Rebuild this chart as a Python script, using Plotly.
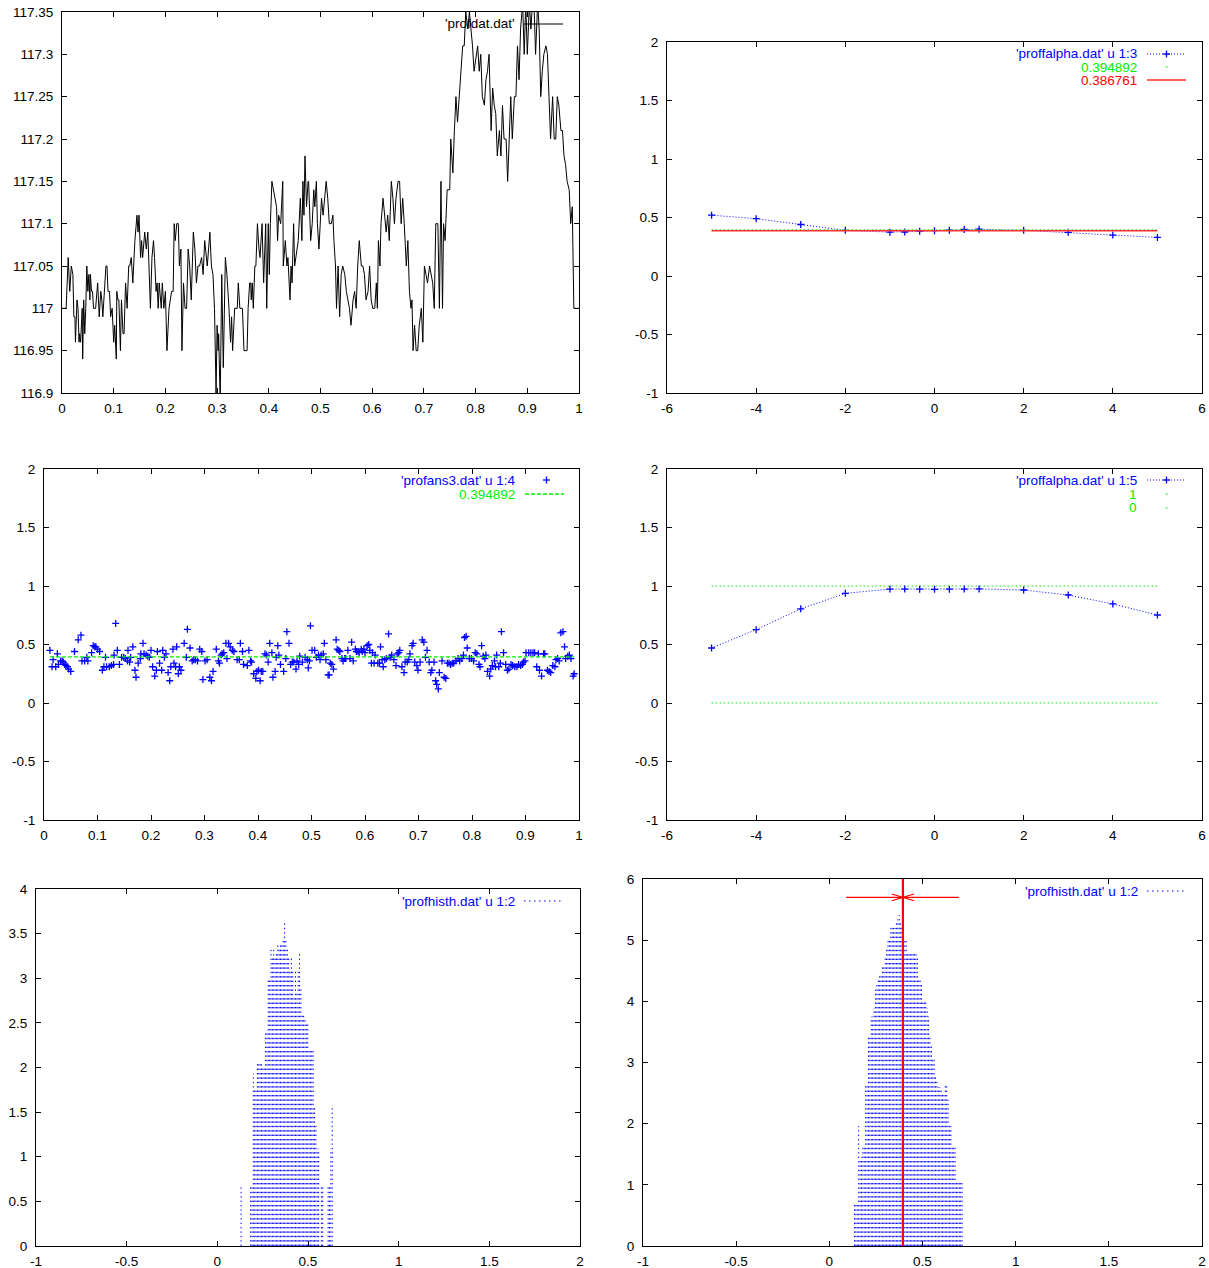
import numpy as np
import plotly.graph_objects as go

W, H = 1209, 1268
FONT = "Liberation Sans, Arial, Helvetica, sans-serif"
FS = 13.5
BLUE = "#0000ff"
GREEN = "#00ee00"
RED = "#ff0000"
BLACK = "#000000"

# ---------------- panel 1 : 'profdat.dat' ----------------
prof_x = [
    0.000, 0.008, 0.012, 0.015, 0.018, 0.021, 0.023, 0.025, 0.026, 0.029,
    0.031, 0.033, 0.034, 0.036, 0.039, 0.040, 0.042, 0.044, 0.046, 0.048,
    0.050, 0.052, 0.054, 0.055, 0.057, 0.059, 0.061, 0.065, 0.069, 0.072,
    0.075, 0.077, 0.079, 0.082, 0.085, 0.087, 0.089, 0.092, 0.094, 0.097,
    0.100, 0.102, 0.105, 0.106, 0.108, 0.110, 0.113, 0.115, 0.118, 0.120,
    0.123, 0.126, 0.129, 0.131, 0.134, 0.137, 0.141, 0.145, 0.147, 0.149,
    0.152, 0.154, 0.156, 0.160, 0.163, 0.166, 0.171, 0.174, 0.177, 0.179,
    0.182, 0.184, 0.186, 0.188, 0.192, 0.194, 0.197, 0.200, 0.203, 0.207,
    0.212, 0.215, 0.217, 0.219, 0.222, 0.225, 0.227, 0.230, 0.232, 0.235,
    0.238, 0.241, 0.244, 0.247, 0.250, 0.254, 0.257, 0.260, 0.263, 0.266,
    0.270, 0.273, 0.276, 0.281, 0.286, 0.289, 0.292, 0.295, 0.298, 0.300,
    0.302, 0.303, 0.306, 0.309, 0.312, 0.316, 0.319, 0.323, 0.326, 0.328,
    0.330, 0.334, 0.339, 0.341, 0.344, 0.349, 0.352, 0.358, 0.360, 0.363,
    0.365, 0.366, 0.368, 0.370, 0.373, 0.375, 0.378, 0.381, 0.383, 0.387,
    0.390, 0.394, 0.396, 0.399, 0.401, 0.403, 0.406, 0.412, 0.415, 0.417,
    0.419, 0.423, 0.427, 0.428, 0.432, 0.435, 0.437, 0.441, 0.443, 0.445,
    0.448, 0.450, 0.454, 0.457, 0.461, 0.464, 0.466, 0.468, 0.470, 0.473,
    0.476, 0.477, 0.481, 0.484, 0.487, 0.489, 0.492, 0.494, 0.497,
    0.502, 0.505, 0.508, 0.511, 0.514, 0.517, 0.521, 0.524, 0.526, 0.529,
    0.531, 0.534, 0.537, 0.540, 0.543, 0.547, 0.550, 0.553, 0.556, 0.559,
    0.563, 0.566, 0.569, 0.572, 0.575, 0.579, 0.582, 0.585, 0.588, 0.592,
    0.595, 0.598, 0.601, 0.605, 0.608, 0.610, 0.612, 0.615, 0.617, 0.621,
    0.624, 0.627, 0.630, 0.633, 0.637, 0.640, 0.643, 0.646, 0.650, 0.653,
    0.656, 0.659, 0.662, 0.666, 0.669, 0.672, 0.675, 0.677, 0.679, 0.682,
    0.685, 0.688, 0.691, 0.695, 0.698, 0.701, 0.704, 0.707, 0.711, 0.714,
    0.717, 0.720, 0.723, 0.727, 0.730, 0.733, 0.736, 0.738, 0.741, 0.745,
    0.747, 0.750, 0.752, 0.756, 0.759, 0.762, 0.765, 0.768, 0.772, 0.775,
    0.778, 0.781, 0.785, 0.788, 0.791, 0.794, 0.797, 0.801, 0.804, 0.807,
    0.810, 0.813, 0.817, 0.820, 0.823, 0.826, 0.830, 0.833, 0.836, 0.839,
    0.842, 0.846, 0.849, 0.852, 0.855, 0.859, 0.862, 0.865, 0.868, 0.871,
    0.875, 0.878, 0.881, 0.884, 0.887, 0.891, 0.894, 0.897, 0.900, 0.904,
    0.907, 0.910, 0.913, 0.916, 0.920, 0.923, 0.926, 0.929, 0.932, 0.936,
    0.939, 0.942, 0.945, 0.949, 0.952, 0.955, 0.958, 0.961, 0.965, 0.968,
    0.971, 0.974, 0.977, 0.981, 0.984, 0.987, 0.990, 1.000,
]
prof_y = [
    117.00, 117.00, 117.06, 117.02, 117.05, 117.04, 116.99, 116.99, 116.96, 117.01,
    117.00, 116.96, 116.97, 116.96, 117.00, 116.94, 117.01, 116.97, 117.00, 117.05,
    117.02, 117.04, 117.01, 117.04, 117.02, 117.02, 117.00, 117.00, 117.03, 116.99,
    117.02, 117.01, 116.99, 117.02, 117.05, 117.05, 117.02, 117.02, 116.99, 117.00,
    116.96, 116.98, 116.94, 117.02, 117.01, 117.01, 116.95, 117.01, 116.97, 116.97,
    117.03, 117.00, 117.05, 117.05, 117.06, 117.03, 117.08, 117.11, 117.09, 117.11,
    117.06, 117.08, 117.06, 117.09, 117.07, 117.09, 117.00, 117.06, 117.08, 117.06,
    117.02, 117.03, 117.00, 117.03, 117.00, 117.03, 117.00, 117.02, 116.95, 117.00,
    117.02, 117.02, 117.10, 117.08, 117.10, 117.10, 117.05, 117.07, 116.95, 117.03,
    117.00, 117.00, 117.07, 117.05, 117.01, 117.09, 117.07, 117.03, 117.05, 117.05,
    117.06, 117.04, 117.08, 117.05, 117.09, 117.05, 117.04, 117.00, 116.90, 116.98,
    116.95, 116.97, 116.89, 117.04, 116.93, 117.06, 117.04, 117.00, 116.96, 116.99,
    116.95, 117.00, 117.00, 117.03, 117.00, 117.00, 116.95, 116.95, 117.00, 117.03,
    117.03, 117.01, 117.03, 117.00, 117.05, 117.05, 117.10, 117.07, 117.06, 117.10,
    117.03, 117.10, 117.00, 117.10, 117.04, 117.10, 117.15, 117.13, 117.12, 117.08,
    117.11, 117.10, 117.15, 117.05, 117.08, 117.05, 117.06, 117.01, 117.05, 117.03,
    117.10, 117.05, 117.07, 117.08, 117.13, 117.08, 117.15, 117.11, 117.18, 117.12,
    117.15, 117.15, 117.08, 117.10, 117.14, 117.12, 117.15, 117.10, 117.07,
    117.13, 117.11, 117.13, 117.15, 117.13, 117.10, 117.10, 117.11, 117.08, 117.05,
    117.00, 117.05, 116.99, 117.04, 117.05, 117.04, 117.02, 117.01, 117.00, 116.98,
    117.01, 117.02, 117.00, 117.05, 117.08, 117.05, 117.05, 117.04, 117.01, 117.02,
    117.05, 117.01, 117.00, 117.00, 117.03, 117.00, 117.08, 117.05, 117.10, 117.13,
    117.11, 117.09, 117.11, 117.08, 117.15, 117.13, 117.10, 117.13, 117.15, 117.15,
    117.10, 117.13, 117.10, 117.05, 117.08, 117.02, 117.00, 117.01, 116.95, 116.98,
    116.95, 116.95, 116.98, 117.00, 116.96, 117.05, 117.04, 117.03, 117.05, 117.04,
    117.03, 117.00, 117.10, 117.10, 117.00, 117.15, 117.00, 117.10, 117.08, 117.14,
    117.14, 117.14, 117.20, 117.16, 117.21, 117.25, 117.22, 117.25, 117.28, 117.31,
    117.31, 117.35, 117.33, 117.35, 117.33, 117.31, 117.28, 117.30, 117.31, 117.28,
    117.30, 117.25, 117.24, 117.27, 117.28, 117.30, 117.21, 117.26, 117.24, 117.23,
    117.18, 117.21, 117.18, 117.24, 117.20, 117.20, 117.15, 117.20, 117.25, 117.20,
    117.25, 117.25, 117.31, 117.27, 117.33, 117.36, 117.30, 117.36, 117.30, 117.36,
    117.33, 117.36, 117.36, 117.30, 117.36, 117.33, 117.25, 117.28, 117.30, 117.31,
    117.30, 117.25, 117.20, 117.25, 117.20, 117.20, 117.25, 117.24, 117.21, 117.21,
    117.18, 117.17, 117.15, 117.14, 117.10, 117.12, 117.00, 117.00,
]

# ---------------- panels 2 and 4 : 'proffalpha.dat' ----------------
alpha_x = [-5, -4, -3, -2, -1, -0.667, -0.333, 0, 0.333, 0.667, 1, 2, 3, 4, 5]
alpha_col3 = [0.52, 0.49, 0.44, 0.39, 0.375, 0.376, 0.383, 0.387, 0.392, 0.398,
              0.40, 0.39, 0.373, 0.35, 0.33]
alpha_col5 = [0.47, 0.627, 0.805, 0.937, 0.974, 0.974, 0.973, 0.972, 0.973, 0.974,
              0.975, 0.966, 0.923, 0.847, 0.752]
mean_est = 0.394892
fit_est = 0.386761
ref_levels = [1, 0]

# ---------------- panel 3 : 'profans3.dat' u 1:4 ----------------
ans_x = [
    0.011, 0.015, 0.017, 0.022, 0.025, 0.027, 0.031, 0.034, 0.036, 0.039,
    0.041, 0.044, 0.046, 0.050, 0.057, 0.064, 0.069, 0.071, 0.076, 0.080,
    0.082, 0.089, 0.092, 0.095, 0.097, 0.100, 0.104, 0.109, 0.112, 0.115,
    0.117, 0.122, 0.126, 0.130, 0.131, 0.134, 0.137, 0.141, 0.145, 0.149,
    0.152, 0.156, 0.157, 0.160, 0.162, 0.166, 0.170, 0.172, 0.176, 0.180,
    0.181, 0.185, 0.187, 0.191, 0.194, 0.197, 0.200, 0.203, 0.207, 0.210,
    0.212, 0.216, 0.220, 0.222, 0.225, 0.228, 0.232, 0.235, 0.237, 0.241,
    0.243, 0.246, 0.248, 0.251, 0.253, 0.256, 0.262, 0.266, 0.268, 0.273,
    0.277, 0.280, 0.283, 0.287, 0.291, 0.295, 0.297, 0.301, 0.305, 0.310,
    0.313, 0.316, 0.322, 0.326, 0.328, 0.331, 0.333, 0.336, 0.340, 0.342,
    0.345, 0.348, 0.352, 0.355, 0.361, 0.365, 0.367, 0.371, 0.373, 0.380,
    0.383, 0.386, 0.388, 0.392, 0.396, 0.398, 0.401, 0.404, 0.406, 0.409,
    0.413, 0.416, 0.419, 0.422, 0.426, 0.428, 0.432, 0.434, 0.437, 0.439,
    0.442, 0.448, 0.452, 0.454, 0.458, 0.461, 0.464, 0.467, 0.471, 0.473,
    0.476, 0.478, 0.483, 0.488, 0.492, 0.494, 0.496, 0.498, 0.501,
    0.506, 0.509, 0.513, 0.516, 0.518, 0.522, 0.524, 0.527, 0.531, 0.533,
    0.535, 0.538, 0.541, 0.546, 0.548, 0.551, 0.553, 0.557, 0.559, 0.562,
    0.564, 0.568, 0.572, 0.575, 0.578, 0.582, 0.584, 0.587, 0.589, 0.593,
    0.595, 0.598, 0.600, 0.604, 0.607, 0.609, 0.612, 0.614, 0.617, 0.619,
    0.624, 0.627, 0.629, 0.632, 0.634, 0.637, 0.640, 0.644, 0.647, 0.650,
    0.654, 0.658, 0.660, 0.663, 0.665, 0.669, 0.673, 0.675, 0.679, 0.682,
    0.684, 0.688, 0.690, 0.693, 0.697, 0.699, 0.703, 0.707, 0.710, 0.713,
    0.716, 0.720, 0.723, 0.725, 0.729, 0.732, 0.734, 0.737, 0.739, 0.744,
    0.748, 0.751, 0.754, 0.757, 0.760, 0.763, 0.766, 0.770, 0.774, 0.777,
    0.781, 0.784, 0.786, 0.789, 0.791, 0.795, 0.799, 0.803, 0.806, 0.809,
    0.813, 0.815, 0.818, 0.821, 0.824, 0.826, 0.829, 0.833, 0.835, 0.838,
    0.842, 0.844, 0.846, 0.850, 0.853, 0.855, 0.859, 0.863, 0.866, 0.869,
    0.873, 0.876, 0.880, 0.884, 0.887, 0.891, 0.894, 0.896, 0.899, 0.901,
    0.906, 0.910, 0.914, 0.917, 0.921, 0.924, 0.926, 0.930, 0.934, 0.936,
    0.941, 0.944, 0.947, 0.951, 0.955, 0.957, 0.960, 0.963, 0.966, 0.970,
    0.973, 0.975, 0.979, 0.982, 0.985, 0.989, 0.991,
]
ans_y = [
    0.45, 0.31, 0.37, 0.31, 0.42, 0.33, 0.36, 0.36, 0.35, 0.33,
    0.32, 0.31, 0.29, 0.27, 0.44, 0.54, 0.58, 0.36, 0.36, 0.39,
    0.36, 0.43, 0.49, 0.48, 0.48, 0.46, 0.44, 0.28, 0.31, 0.39,
    0.31, 0.31, 0.32, 0.33, 0.41, 0.68, 0.45, 0.33, 0.39, 0.39,
    0.38, 0.36, 0.45, 0.35, 0.39, 0.48, 0.28, 0.22, 0.34, 0.38,
    0.42, 0.51, 0.42, 0.41, 0.40, 0.39, 0.45, 0.31, 0.23, 0.28,
    0.44, 0.34, 0.28, 0.45, 0.39, 0.42, 0.26, 0.19, 0.31, 0.46,
    0.34, 0.31, 0.48, 0.25, 0.31, 0.28, 0.51, 0.39, 0.63, 0.47,
    0.36, 0.37, 0.37, 0.36, 0.46, 0.44, 0.20, 0.36, 0.37, 0.22,
    0.19, 0.27, 0.46, 0.36, 0.34, 0.41, 0.42, 0.43, 0.51, 0.38,
    0.51, 0.48, 0.45, 0.44, 0.37, 0.37, 0.51, 0.44, 0.33, 0.32,
    0.45, 0.36, 0.35, 0.25, 0.21, 0.27, 0.28, 0.19, 0.27, 0.27,
    0.42, 0.41, 0.35, 0.51, 0.43, 0.22, 0.27, 0.39, 0.49, 0.41,
    0.33, 0.27, 0.38, 0.61, 0.51, 0.33, 0.35, 0.35, 0.29, 0.36,
    0.33, 0.40, 0.35, 0.39, 0.37, 0.30, 0.36, 0.66, 0.45,
    0.45, 0.39, 0.41, 0.37, 0.41, 0.42, 0.51, 0.37, 0.24, 0.24,
    0.34, 0.33, 0.29, 0.54, 0.46, 0.45, 0.44, 0.38, 0.36, 0.38,
    0.38, 0.45, 0.38, 0.52, 0.36, 0.46, 0.44, 0.44, 0.43, 0.46,
    0.44, 0.46, 0.43, 0.49, 0.50, 0.45, 0.34, 0.43, 0.34, 0.41,
    0.34, 0.34, 0.48, 0.37, 0.31, 0.37, 0.38, 0.59, 0.39, 0.41,
    0.37, 0.32, 0.42, 0.43, 0.45, 0.31, 0.26, 0.35, 0.35, 0.37,
    0.42, 0.49, 0.51, 0.35, 0.32, 0.28, 0.35, 0.54, 0.52, 0.39,
    0.45, 0.35, 0.26, 0.28, 0.35, 0.19, 0.16, 0.12, 0.26, 0.36,
    0.22, 0.21, 0.34, 0.34, 0.33, 0.34, 0.34, 0.36, 0.38, 0.36,
    0.38, 0.41, 0.56, 0.57, 0.47, 0.38, 0.38, 0.36, 0.43, 0.42,
    0.33, 0.31, 0.49, 0.40, 0.38, 0.41, 0.27, 0.23, 0.29, 0.32,
    0.36, 0.31, 0.41, 0.31, 0.34, 0.61, 0.43, 0.33, 0.28, 0.29,
    0.33, 0.32, 0.31, 0.31, 0.33, 0.32, 0.33, 0.35, 0.36, 0.43,
    0.43, 0.43, 0.43, 0.43, 0.31, 0.42, 0.28, 0.23, 0.42, 0.42,
    0.28, 0.27, 0.26, 0.32, 0.31, 0.37, 0.38, 0.36, 0.60, 0.61,
    0.48, 0.38, 0.40, 0.41, 0.38, 0.23, 0.25,
]

# ---------------- panels 5 and 6 : 'profhisth.dat' u 1:2 ----------------
hist_a_start, hist_a_width = 0.131, 0.0075
hist_a_h = [
    0.68, 0, 0, 0, 0, 0, 0, 0.68, 0.68, 1.93,
    1.77, 1.77, 2.05, 2.05, 2.05, 2.05, 2.00, 2.00, 2.39, 2.39,
    3.00, 3.00, 3.33, 3.25, 3.35, 3.25, 3.30, 3.38, 3.35, 3.38,
    3.40, 3.44, 3.62, 3.44, 3.35, 3.25, 3.10, 3.25, 3.10, 2.80,
    3.08, 2.85, 3.08, 3.29, 2.90, 2.61, 2.61, 2.55, 2.50, 2.48,
    2.20, 2.19, 2.19, 2.19, 1.55, 1.37, 1.09, 1.09, 0, 0.68,
    0.68, 0, 0, 0, 0.68, 0.68, 1.09, 1.58,
]
hist_b_start, hist_b_width = 0.135, 0.0075
hist_b_h = [
    0.70, 0.70, 0.70, 1.96, 1.40, 1.45, 1.62, 1.62, 2.64, 2.64,
    3.45, 3.45, 3.75, 3.75, 3.89, 4.19, 4.27, 4.38, 4.45, 4.45,
    4.58, 4.58, 4.72, 4.86, 5.00, 5.00, 5.20, 5.20, 5.20, 5.20,
    5.28, 5.34, 5.41, 5.28, 5.20, 5.00, 5.00, 5.00, 4.79, 4.79,
    4.79, 4.79, 4.79, 4.79, 4.79, 4.72, 4.38, 4.38, 4.31, 4.00,
    4.00, 4.00, 3.89, 3.75, 3.42, 3.29, 3.05, 3.05, 2.77, 2.71,
    2.60, 2.60, 2.56, 2.50, 2.50, 2.64, 2.64, 2.39, 1.96, 1.96,
    1.61, 1.61, 1.61, 1.06, 1.06, 1.06, 1.06, 1.06,
]
err_y = 5.7
err_lo, err_hi = 0.09, 0.695

# ---------------- geometry (pixels) ----------------
PANELS = {
    1: dict(x=(62, 579), y=(12, 393), xr=[0, 1], yr=[116.9, 117.35],
            xt=[round(0.1 * i, 1) for i in range(11)],
            yt=[round(116.9 + 0.05 * i, 2) for i in range(10)]),
    2: dict(x=(667, 1202), y=(42, 393), xr=[-6, 6], yr=[-1, 2],
            xt=list(range(-6, 7, 2)), yt=[-1, -0.5, 0, 0.5, 1, 1.5, 2]),
    3: dict(x=(44, 579), y=(469, 820), xr=[0, 1], yr=[-1, 2],
            xt=[round(0.1 * i, 1) for i in range(11)], yt=[-1, -0.5, 0, 0.5, 1, 1.5, 2]),
    4: dict(x=(667, 1202), y=(469, 820), xr=[-6, 6], yr=[-1, 2],
            xt=list(range(-6, 7, 2)), yt=[-1, -0.5, 0, 0.5, 1, 1.5, 2]),
    5: dict(x=(36, 580), y=(889, 1246), xr=[-1, 2], yr=[0, 4],
            xt=[-1, -0.5, 0, 0.5, 1, 1.5, 2], yt=[0, 0.5, 1, 1.5, 2, 2.5, 3, 3.5, 4]),
    6: dict(x=(643, 1202), y=(879, 1246), xr=[-1, 2], yr=[0, 6],
            xt=[-1, -0.5, 0, 0.5, 1, 1.5, 2], yt=[0, 1, 2, 3, 4, 5, 6]),
}


def fx(p):
    return p / W


def fy(p):
    return 1 - p / H


def fmt(v):
    return "%g" % v


def ax_ids(k):
    return ("x" if k == 1 else "x%d" % k), ("y" if k == 1 else "y%d" % k)


fig = go.Figure()

# panel 1
xa, ya = ax_ids(1)
fig.add_trace(go.Scatter(x=prof_x, y=prof_y, mode="lines", xaxis=xa, yaxis=ya,
                         line=dict(color=BLACK, width=1)))

PLUS = dict(symbol="cross-thin", size=5, color=BLUE, line=dict(color=BLUE, width=1.3))

# panel 2
xa, ya = ax_ids(2)
fig.add_trace(go.Scatter(x=alpha_x, y=alpha_col3, mode="lines+markers", xaxis=xa, yaxis=ya,
                         line=dict(color=BLUE, width=1, dash="1px,2px"), marker=PLUS))
span = [min(alpha_x), max(alpha_x)]
fig.add_trace(go.Scatter(x=span, y=[mean_est] * 2, mode="lines", xaxis=xa, yaxis=ya,
                         line=dict(color=GREEN, width=1.2, dash="1.5px,2.5px")))
fig.add_trace(go.Scatter(x=span, y=[fit_est] * 2, mode="lines", xaxis=xa, yaxis=ya,
                         line=dict(color="#ff3030", width=1.6)))

# panel 3
xa, ya = ax_ids(3)
fig.add_trace(go.Scatter(x=ans_x, y=ans_y, mode="markers", xaxis=xa, yaxis=ya, marker=PLUS))
fig.add_trace(go.Scatter(x=[min(ans_x), max(ans_x)], y=[mean_est] * 2, mode="lines",
                         xaxis=xa, yaxis=ya,
                         line=dict(color=GREEN, width=1.3, dash="4px,2px")))

# panel 4
xa, ya = ax_ids(4)
for lv in ref_levels:
    fig.add_trace(go.Scatter(x=span, y=[lv] * 2, mode="lines", xaxis=xa, yaxis=ya,
                             line=dict(color=GREEN, width=1.2, dash="1.5px,2.5px")))
fig.add_trace(go.Scatter(x=alpha_x, y=alpha_col5, mode="lines+markers", xaxis=xa, yaxis=ya,
                         line=dict(color=BLUE, width=1, dash="1px,2px"), marker=PLUS))


def impulses(start, width, heights):
    X, Y = [], []
    for i, h in enumerate(heights):
        if h > 0:
            x = round(start + i * width, 5)
            X += [x, x, None]
            Y += [0, h, None]
    return X, Y


IMP = dict(color=BLUE, width=1, dash="1.4px,3px")

# panel 5
xa, ya = ax_ids(5)
X, Y = impulses(hist_a_start, hist_a_width, hist_a_h)
fig.add_trace(go.Scatter(x=X, y=Y, mode="lines", xaxis=xa, yaxis=ya, line=IMP,
                         connectgaps=False))

# panel 6
xa, ya = ax_ids(6)
X, Y = impulses(hist_b_start, hist_b_width, hist_b_h)
fig.add_trace(go.Scatter(x=X, y=Y, mode="lines", xaxis=xa, yaxis=ya, line=IMP,
                         connectgaps=False))
y6top = PANELS[6]["yr"][1]
fig.add_trace(go.Scatter(x=[mean_est, mean_est], y=[0, y6top], mode="lines",
                         xaxis=xa, yaxis=ya, line=dict(color=RED, width=2.2)))
head_len, head_half = 0.06, 0.055
ex = [err_lo, err_hi, None,
      mean_est - head_len, mean_est, mean_est - head_len, None,
      mean_est + head_len, mean_est, mean_est + head_len]
ey = [err_y, err_y, None,
      err_y + head_half, err_y, err_y - head_half, None,
      err_y + head_half, err_y, err_y - head_half]
fig.add_trace(go.Scatter(x=ex, y=ey, mode="lines", xaxis=xa, yaxis=ya,
                         line=dict(color=RED, width=1.1), connectgaps=False))

# axes
layout_axes = {}
for k, p in PANELS.items():
    xa, ya = ax_ids(k)
    common = dict(ticks="inside", ticklen=5, tickwidth=1, tickcolor=BLACK,
                  showline=True, linewidth=1, linecolor=BLACK, mirror="allticks",
                  showgrid=False, zeroline=False, fixedrange=True, autorange=False,
                  automargin=False, ticklabeloverflow="allow",
                  tickmode="array", tickfont=dict(family=FONT, size=FS, color=BLACK))
    layout_axes["xaxis" if k == 1 else "xaxis%d" % k] = dict(
        domain=[fx(p["x"][0]), fx(p["x"][1])], range=p["xr"], anchor=ya,
        tickvals=p["xt"], ticktext=[fmt(v) for v in p["xt"]], ticklabelstandoff=3, **common)
    layout_axes["yaxis" if k == 1 else "yaxis%d" % k] = dict(
        domain=[fy(p["y"][1]), fy(p["y"][0])], range=p["yr"], anchor=xa,
        tickvals=p["yt"], ticktext=[fmt(v) for v in p["yt"]], ticklabelstandoff=5, **common)

# legends (gnuplot-style keys: right-aligned text, sample to the right)
LEGENDS = [
    ("'profdat.dat'", BLACK, 517, 24, "line", 524, 563),
    ("'proffalpha.dat' u 1:3", BLUE, 1139, 54, "linesplus", 1147, 1186),
    (fmt(mean_est), GREEN, 1139, 67, "dot", 1147, 1186),
    (fmt(fit_est), RED, 1139, 80, "thick", 1147, 1186),
    ("'profans3.dat' u 1:4", BLUE, 517, 480, "plus", 525, 564),
    (fmt(mean_est), GREEN, 517, 494, "dashed", 525, 564),
    ("'proffalpha.dat' u 1:5", BLUE, 1139, 480, "linesplus", 1147, 1186),
    (fmt(ref_levels[0]), GREEN, 1139, 494, "dot", 1147, 1186),
    (fmt(ref_levels[1]), GREEN, 1139, 508, "dot", 1147, 1186),
    ("'profhisth.dat' u 1:2", BLUE, 517, 901, "dotted", 524, 563),
    ("'profhisth.dat' u 1:2", BLUE, 1140, 891, "dotted", 1147, 1186),
]

annotations = []
shapes = []


def seg(x0, y0, x1, y1, color, width, dash="solid"):
    shapes.append(dict(type="line", xref="paper", yref="paper",
                       x0=fx(x0), y0=fy(y0), x1=fx(x1), y1=fy(y1),
                       line=dict(color=color, width=width, dash=dash)))


for text, col, xr, yc, kind, s0, s1 in LEGENDS:
    annotations.append(dict(text=text, x=fx(xr), y=fy(yc), xref="paper", yref="paper",
                            xanchor="right", yanchor="middle", showarrow=False,
                            font=dict(family=FONT, size=FS, color=col)))
    mid = (s0 + s1) / 2
    if kind == "line":
        seg(s0, yc, s1, yc, col, 1)
    elif kind == "thick":
        seg(s0, yc, s1, yc, "#ff3030", 1.6)
    elif kind == "dashed":
        seg(s0, yc, s1, yc, col, 1.3, "4px,2px")
    elif kind == "dotted":
        seg(s0, yc, s1, yc, col, 1, "1.5px,3.5px")
    elif kind == "dot":
        seg(mid - 1, yc, mid + 1, yc, col, 1)
    if kind in ("linesplus",):
        seg(s0, yc, s1, yc, col, 1, "1px,2px")
    if kind in ("linesplus", "plus"):
        cx = mid if kind == "linesplus" else mid + 2
        seg(cx - 3.5, yc, cx + 3.5, yc, col, 1.3)
        seg(cx, yc - 3.5, cx, yc + 3.5, col, 1.3)

fig.update_layout(
    width=W, height=H, autosize=False,
    margin=dict(l=0, r=0, t=0, b=0, pad=0, autoexpand=False),
    paper_bgcolor="white", plot_bgcolor="white",
    showlegend=False,
    font=dict(family=FONT, size=FS, color=BLACK),
    annotations=annotations, shapes=shapes,
    **layout_axes,
)

fig.write_html(
    "out.html",
    config={"displayModeBar": False, "staticPlot": True},
    post_script="document.body.style.margin='0';document.body.style.padding='0';"
                "document.body.style.overflow='hidden';",
)
